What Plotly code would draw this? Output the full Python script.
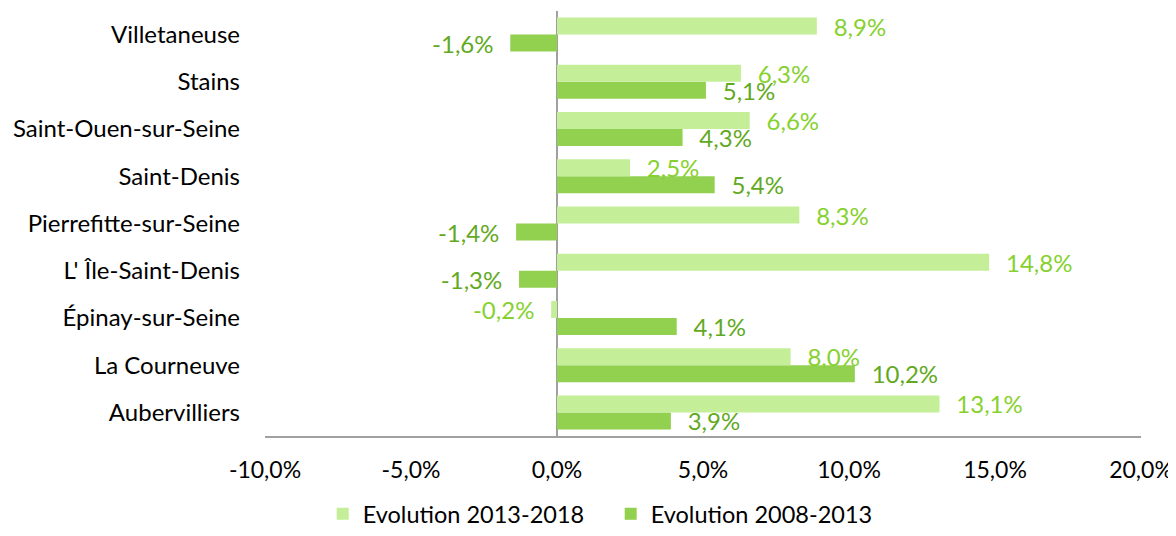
import plotly.graph_objects as go

categories = ["Villetaneuse", "Stains", "Saint-Ouen-sur-Seine", "Saint-Denis",
              "Pierrefitte-sur-Seine", "L' Île-Saint-Denis", "Épinay-sur-Seine",
              "La Courneuve", "Aubervilliers"]
evol_2013_2018 = [8.9, 6.3, 6.6, 2.5, 8.3, 14.8, -0.2, 8.0, 13.1]
evol_2008_2013 = [-1.6, 5.1, 4.3, 5.4, -1.4, -1.3, 4.1, 10.2, 3.9]
tick_vals = [-10, -5, 0, 5, 10, 15, 20]


def fmt(v):
    return f"{v:.1f}%".replace(".", ",")


def label(v):
    pad = "\u00a0\u00a0\u200a"
    return pad + fmt(v) if v >= 0 else fmt(v) + pad


cats = categories[::-1]
v1 = evol_2013_2018[::-1]
v2 = evol_2008_2013[::-1]

FONT = "Lato"
LIGHT = "#C4EF98"
DARK = "#92D050"

fig = go.Figure()
fig.add_trace(go.Bar(
    y=cats, x=v2, orientation="h", name="Evolution 2008-2013",
    marker=dict(color=DARK, line=dict(width=0)),
    text=[label(v) for v in v2], textposition="outside", cliponaxis=False,
    constraintext="none",
    textfont=dict(family=FONT, size=24, color="#62A922"),
    legendrank=2,
))
fig.add_trace(go.Bar(
    y=cats, x=v1, orientation="h", name="Evolution 2013-2018",
    marker=dict(color=LIGHT, line=dict(width=0)),
    text=[label(v) for v in v1], textposition="outside", cliponaxis=False,
    constraintext="none",
    textfont=dict(family=FONT, size=24, color="#86D12E"),
    legendrank=1,
))

fig.update_layout(
    width=1168, height=528,
    margin=dict(l=257, r=35, t=3, b=100),
    paper_bgcolor="white", plot_bgcolor="white",
    barmode="group", bargap=0.28, bargroupgap=0,
    font=dict(family=FONT, size=23, color="#000000"),
    showlegend=True,
    legend=dict(orientation="h", x=0.516, xanchor="center", xref="container",
                y=0, yanchor="bottom", yref="container",
                font=dict(family=FONT, size=23.5, color="#000"),
                itemwidth=30, tracegroupgap=0, entrywidth=243),
    uniformtext=dict(mode=False),
)
fig.update_xaxes(
    range=[-10, 20], tickvals=tick_vals, ticktext=[fmt(t) for t in tick_vals],
    showgrid=False, zeroline=True, zerolinecolor="#A0A0A0", zerolinewidth=2,
    showline=True, linecolor="#A0A0A0", linewidth=2, ticks="",
    ticklabelstandoff=12, tickfont=dict(family=FONT, size=23), automargin=False,
)
fig.update_yaxes(
    categoryorder="array", categoryarray=cats,
    showgrid=False, showline=False, ticks="", ticklabelstandoff=24,
    tickfont=dict(family=FONT, size=24), automargin=False,
)

fig.write_html("out.html")
